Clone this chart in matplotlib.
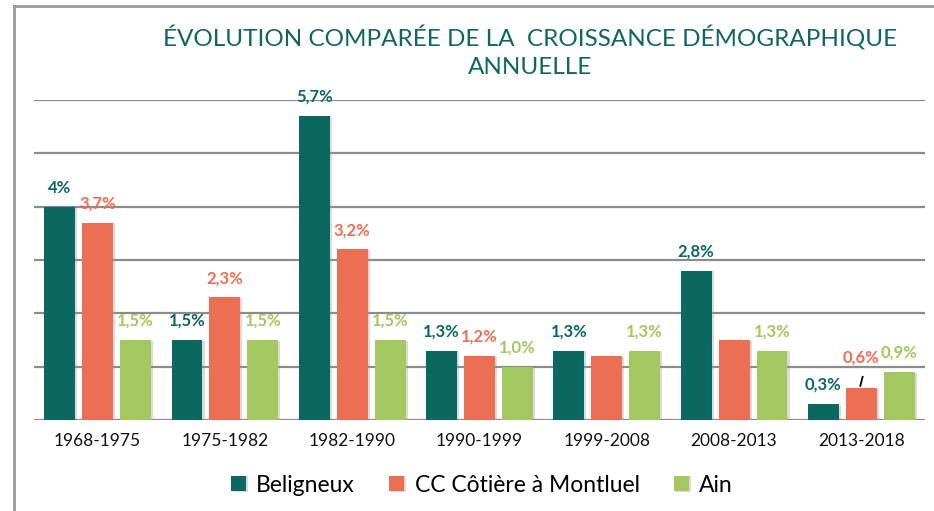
import matplotlib
matplotlib.use("Agg")
import matplotlib.pyplot as plt
import numpy as np
from matplotlib.lines import Line2D
from matplotlib import patheffects as pe

periods = ["1968-1975", "1975-1982", "1982-1990", "1990-1999", "1999-2008", "2008-2013", "2013-2018"]
series_names = ["Beligneux", "CC Côtière à Montluel", "Ain"]
beligneux = [4.0, 1.5, 5.7, 1.3, 1.3, 2.8, 0.3]
cc_cotiere = [3.7, 2.3, 3.2, 1.2, 1.2, 1.5, 0.6]
ain = [1.5, 1.5, 1.5, 1.0, 1.3, 1.3, 0.9]
beligneux_labels = ["4%", "1,5%", "5,7%", "1,3%", "1,3%", "2,8%", "0,3%"]
cc_labels = ["3,7%", "2,3%", "3,2%", "1,2%", "", "", "0,6%"]
ain_labels = ["1,5%", "1,5%", "1,5%", "1,0%", "1,3%", "1,3%", "0,9%"]
title = "ÉVOLUTION COMPARÉE DE LA  CROISSANCE DÉMOGRAPHIQUE\nANNUELLE"

colors = ["#0B6861", "#EC6F53", "#A3C85F"]
font = "Lato"

W, H = 934, 511
fig = plt.figure(figsize=(W / 100, H / 100), dpi=100)
fig.patch.set_facecolor("white")
ax = fig.add_axes([34 / W, (H - 420) / H, (925 - 34) / W, (420 - 100) / H])

x = np.arange(len(periods))
width = 0.243
step = 0.298
all_vals = [beligneux, cc_cotiere, ain]
all_labels = [beligneux_labels, cc_labels, ain_labels]
shadow = [pe.SimplePatchShadow(offset=(1.5, -0.5), shadow_rgbFace="#999999", alpha=0.35), pe.Normal()]

for i, (vals, labs, col, name) in enumerate(zip(all_vals, all_labels, colors, series_names)):
    pos = x + (i - 1) * step
    bars = ax.bar(pos, vals, width=width, color=col, label=name, zorder=3)
    for b in bars:
        b.set_path_effects(shadow)
    for j, (p, v, lab) in enumerate(zip(pos, vals, labs)):
        if not lab:
            continue
        extra = 0
        if i == 1 and j == 6:
            extra = 8
            ax.plot([p - 0.008, p + 0.01], [v + 0.04, v + 0.21], color="black", lw=1.3, zorder=4)
        ax.annotate(lab, xy=(p, v), xytext=(0, 8 + extra), textcoords="offset points",
                    ha="center", va="bottom", color=col, fontsize=12, fontweight="bold",
                    family=font, zorder=5)

ax.set_xlim(-0.5, len(periods) - 0.5)
ax.set_ylim(0, 6)
ax.set_yticks(np.arange(0, 7, 1))
ax.yaxis.grid(True, color="#8C8C8C", linewidth=1.6, zorder=0)
ax.set_axisbelow(True)
ax.tick_params(axis="y", left=False, labelleft=False)
ax.tick_params(axis="x", length=0, pad=9)
ax.set_xticks(x)
ax.set_xticklabels(periods, fontsize=12.5, family=font, color="#111111")
for s in ax.spines.values():
    s.set_visible(False)

fig.text(530 / W, 1 - 25 / H, title, ha="center", va="top", color="#10675E",
         fontsize=17.5, family=font, linespacing=1.4)

leg = fig.legend(loc="center", bbox_to_anchor=(482 / W, 1 - 485 / H), ncol=3, frameon=False,
                 prop={"family": font, "size": 16.5}, handlelength=0.65, handleheight=0.65,
                 handletextpad=0.45, columnspacing=1.5)

# outer frame (top and left)
fig.add_artist(Line2D([14 / W, 1], [1 - 6 / H, 1 - 6 / H], color="#9A9A9A", lw=2))
fig.add_artist(Line2D([14 / W, 14 / W], [0, 1 - 6 / H], color="#9A9A9A", lw=2))

fig.savefig("out.png", dpi=100, facecolor="white")
